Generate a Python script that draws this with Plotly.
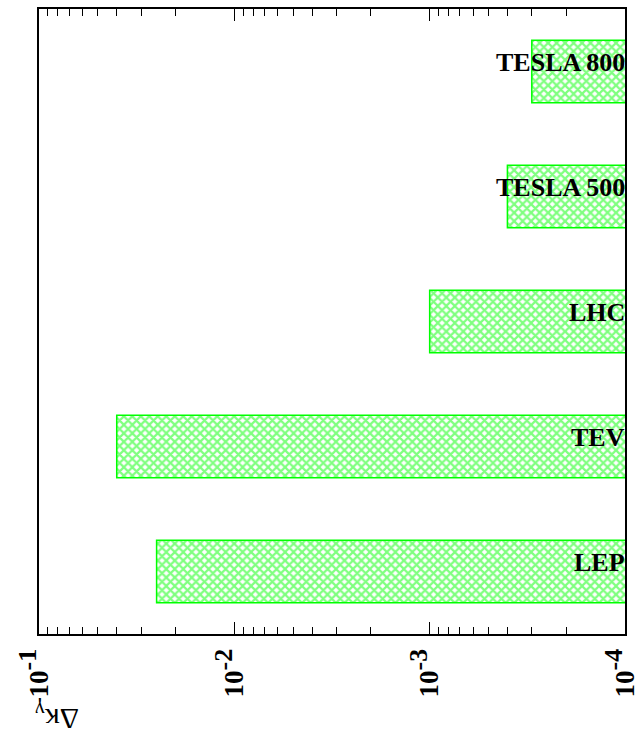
import plotly.graph_objects as go

experiments = ["LEP", "TEV", "LHC", "TESLA 500", "TESLA 800"]
sensitivity = [0.025, 0.040, 0.0010, 0.00040, 0.00030]
tick_values = [1e-1, 1e-2, 1e-3, 1e-4]
tick_exponents = ["-1", "-2", "-3", "-4"]

GREEN = "#00ff00"
SERIF = "Liberation Serif"

tick_labels = [f'<b>10</b><sup><span style="font-size:26px;font-weight:bold">{e}</span></sup>'
               for e in tick_exponents]

fig = go.Figure()
fig.add_trace(go.Bar(
    y=experiments,
    x=sensitivity,
    orientation="h",
    width=0.5,
    marker=dict(
        color="white",
        line=dict(color=GREEN, width=1.5),
        pattern=dict(shape="x", fgcolor=GREEN, bgcolor="white", size=6, solidity=0.6),
    ),
    showlegend=False,
    hoverinfo="skip",
))

for name in experiments:
    fig.add_annotation(
        x=-4, xref="x", y=name, yref="y",
        text=f"<b>{name}</b>", showarrow=False,
        xanchor="right", yanchor="middle", yshift=9, xshift=2,
        font=dict(family=SERIF, size=26, color="black"),
    )

fig.add_annotation(
    x=(57 - 39) / 586, y=(634 - 717) / 625, xref="paper", yref="paper",
    text="Δκ<sub>γ</sub>", textangle=180, showarrow=False,
    xanchor="center", yanchor="middle",
    font=dict(family=SERIF, size=30, color="black"),
)

fig.update_layout(
    width=641, height=740,
    margin=dict(l=39, r=16, t=9, b=106),
    paper_bgcolor="white", plot_bgcolor="white",
    bargap=0.5,
)
fig.update_xaxes(
    type="log", range=[-1, -4], automargin=False,
    tickvals=tick_values, ticktext=tick_labels, tickangle=-90,
    tickfont=dict(family=SERIF, size=27, color="black"),
    ticklabelstandoff=2,
    ticks="inside", ticklen=12, tickwidth=1, tickcolor="black",
    minor=dict(ticks="inside", ticklen=7, tickwidth=1, tickcolor="black", dtick="D1"),
    showline=True, linecolor="black", linewidth=2, mirror="allticks",
    showgrid=False, zeroline=False,
)
fig.update_yaxes(
    categoryorder="array", categoryarray=experiments, automargin=False,
    range=[-0.5, 4.5], showticklabels=False, ticks="",
    showline=True, linecolor="black", linewidth=2, mirror=True,
    showgrid=False, zeroline=False,
)

fig.write_html(
    "out.html",
    config={"displayModeBar": False},
    post_script="document.body.style.margin='0';document.body.style.overflow='hidden';",
)
